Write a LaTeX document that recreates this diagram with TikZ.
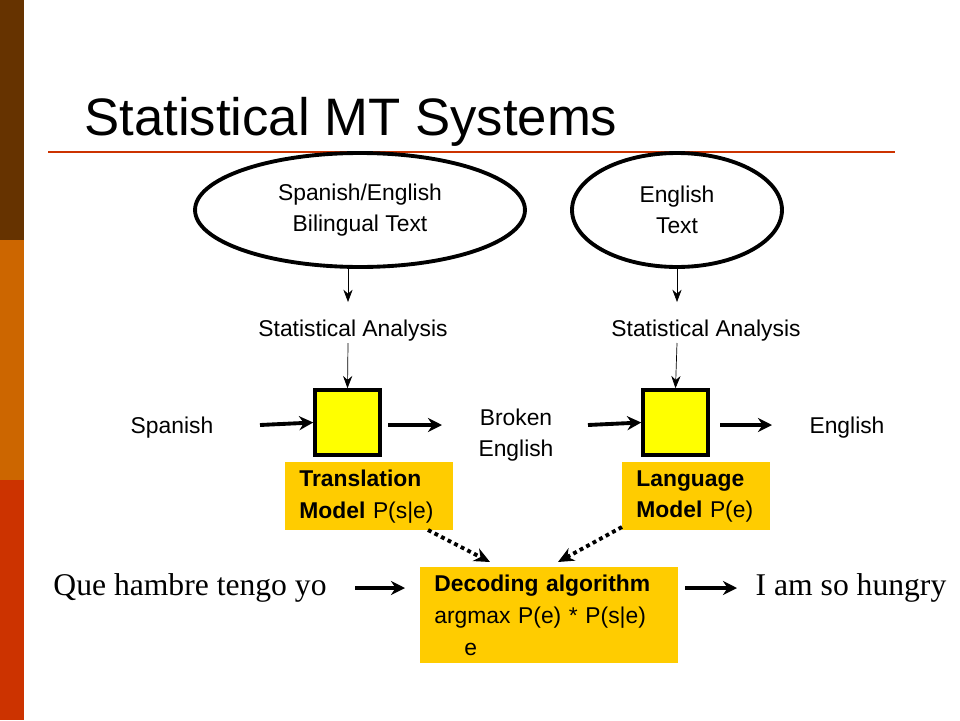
\documentclass[tikz,border=0pt]{standalone}
\usepackage{fontspec}
\setmainfont{Liberation Sans}
\newfontfamily\serifrm{Liberation Serif}
\usetikzlibrary{arrows.meta,shapes.geometric}
\definecolor{barbrown}{RGB}{102,51,0}
\definecolor{barorange}{RGB}{204,102,0}
\definecolor{barred}{RGB}{204,51,0}
\definecolor{modelfill}{RGB}{255,204,0}
\definecolor{boxyellow}{RGB}{255,255,0}
\tikzset{
  corpus/.style={ellipse, draw, line width=2.2pt, inner sep=0pt, minimum height=2.28cm, align=center, font=\fontsize{13}{18}\selectfont},
  label/.style={align=center, font=\fontsize{13}{18}\selectfont},
  desc/.style={fill=modelfill, anchor=north west, align=left, inner xsep=8pt, font=\fontsize{13}{18}\selectfont},
  modelbox/.style={draw, line width=2pt, fill=boxyellow, minimum width=1.3cm, minimum height=1.3cm},
  thinarrow/.style={-{Stealth[length=7pt]}, thin},
  thickarrow/.style={-{Stealth[length=8pt,width=8pt]}, line width=2.2pt},
  dotarrow/.style={-{Stealth[length=9pt,width=8pt]}, line width=2.2pt, dotted}
}
\begin{document}
\begin{tikzpicture}[x=0.02cm,y=-0.02cm]
  \useasboundingbox (0,0) rectangle (960,720);
  % side bar
  \fill[barbrown] (0,0) rectangle (24,240);
  \fill[barorange] (0,240) rectangle (24,480);
  \fill[barred] (0,480) rectangle (24,720);
  % title
  \node[anchor=base west, font=\fontsize{30}{36}\selectfont, inner sep=0] (title) at (84,135) {Statistical MT Systems};
  \draw[barred, line width=1pt] (48,152) -- (895,152);
  % corpora
  \node[corpus, minimum width=6.6cm] (bitext) at (360,210) {Spanish/English\\Bilingual Text};
  \node[corpus, minimum width=4.2cm] (entext) at (677,210) {English\\Text};
  \node[label] (statA) at (353,331) {Statistical Analysis};
  \node[label] (statB) at (706,331) {Statistical Analysis};
  \draw[thinarrow] (348,265) -- (348,302);
  \draw[thinarrow] (677,265) -- (677,302);
  % models
  \node[modelbox] (tm) at (347.5,422.5) {};
  \node[modelbox] (lm) at (675.5,422.5) {};
  \draw[thinarrow] (348,343) -- (tm.north);
  \draw[thinarrow] (677,343) -- (lm.north);
  \node[label] (spanish) at (172,428) {Spanish};
  \node[label] (broken) at (516,435) {Broken\\English};
  \node[label] (english) at (847,428) {English};
  \draw[thickarrow] (260,425) -- (tm.west);
  \draw[thickarrow] (388,425) -- (442,425);
  \draw[thickarrow] (588,425) -- (lm.west);
  \draw[thickarrow] (720,425) -- (772,425);
  % model descriptions
  \node[desc, minimum width=3.16cm, minimum height=1.36cm, text width=2.8cm] (tmdesc) at (285,462) {\textbf{Translation}\\\textbf{Model} P(s|e)};
  \node[desc, minimum width=2.76cm, minimum height=1.36cm, text width=2.4cm] (lmdesc) at (622,462) {\textbf{Language}\\\textbf{Model} P(e)};
  % decoder
  \node[desc, minimum width=4.9cm, minimum height=1.92cm, text width=4.6cm] (decoder) at (420,567) {\textbf{Decoding algorithm}\\argmax P(e) * P(s|e)\\\hspace*{0.6cm}e};
  \draw[dotarrow] (428,530) -- (490,562);
  \draw[dotarrow] (622,527) -- (558,562);
  \node[font=\serifrm\fontsize{18}{22}\selectfont] (input) at (190,588) {Que hambre tengo yo};
  \node[font=\serifrm\fontsize{18}{22}\selectfont] (output) at (851,588) {I am so hungry};
  \draw[thickarrow] (355,588) -- (405,588);
  \draw[thickarrow] (685,588) -- (737,588);
\end{tikzpicture}
\end{document}
